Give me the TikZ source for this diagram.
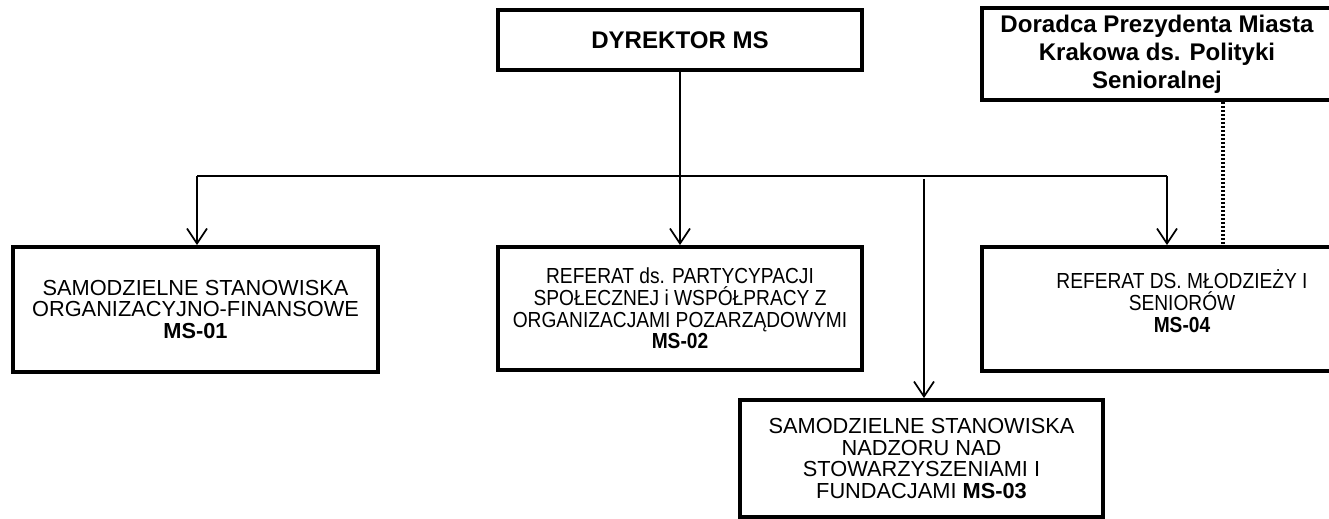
\documentclass[tikz,border=0pt]{standalone}
\usepackage{fontspec}
\setmainfont{Liberation Sans}
\newfontfamily\narrowfont[FakeStretch = 0.88, BoldFont = *-Bold]{Liberation Sans}
\usetikzlibrary{arrows.meta}

\begin{document}
\begin{tikzpicture}[x = 0.02cm, y = -0.02cm,
  unit/.style = {draw, line width = 2.2pt, inner sep = 0pt, align = center,
    font = \fontsize{12.4}{12.3}\selectfont},
  small/.style = {unit, font = \narrowfont\fontsize{12.4}{12.4}\selectfont},
  head/.style = {unit, font = \bfseries\fontsize{13.7}{15.9}\selectfont},
  link/.style = {line width = 1pt, -{Straight Barb[length = 0.3cm, width = 0.4cm]}},
  trunk/.style = {line width = 1.5pt},
  advice/.style = {line width = 1.8pt, dash pattern = on 0.05cm off 0.03cm}]
\useasboundingbox (0, 0) rectangle (1329, 519);
\clip (0, 0) rectangle (1329, 519);

\node[head, minimum width = 7.28cm, minimum height = 1.2cm] (dyr) at (680, 40) {DYREKTOR MS};
\node[head, minimum width = 7cm, minimum height = 1.84cm] (dor) at (1157, 54)
  {Doradca Prezydenta Miasta\\Krakowa ds. Polityki\\Senioralnej};

\node[unit, minimum width = 7.3cm, minimum height = 2.5cm] (ms01) at (195.5, 309.5)
  {SAMODZIELNE STANOWISKA\\ORGANIZACYJNO-FINANSOWE\\\textbf{MS-01}};
\node[small, minimum width = 7.28cm, minimum height = 2.46cm] (ms02) at (680, 308.5)
  {REFERAT ds. PARTYCYPACJI\\SPOŁECZNEJ i WSPÓŁPRACY Z\\ORGANIZACJAMI POZARZĄDOWYMI\\\textbf{MS-02}};
\node[small, minimum width = 8cm, minimum height = 2.48cm] (ms04) at (1182, 309)
  {REFERAT DS. MŁODZIEŻY I\\SENIORÓW\\\textbf{MS-04}\\[-0.12cm]};
\node[unit, minimum width = 7.26cm, minimum height = 2.34cm] (ms03) at (921.5, 458.5)
  {SAMODZIELNE STANOWISKA\\NADZORU NAD\\STOWARZYSZENIAMI I\\FUNDACJAMI \textbf{MS-03}};

\coordinate (bus) at (680, 176);
\coordinate (busL) at (197, 176);
\coordinate (busR) at (1167, 176);
\coordinate (gap) at (924, 179);
\coordinate (adv) at (1223, 0);

\draw[trunk] (dyr.south) -- (bus);
\draw[line width = 1pt] (busL) -- (busR);
\draw[link] (bus) -- (ms02.north);
\draw[link] (busL) -- (busL |- ms01.north);
\draw[link] (busR) -- (busR |- ms04.north);
\draw[link] (gap) -- (gap |- ms03.north);
\draw[advice] (dor.south -| adv) -- (ms04.north -| adv);

\end{tikzpicture}
\end{document}
